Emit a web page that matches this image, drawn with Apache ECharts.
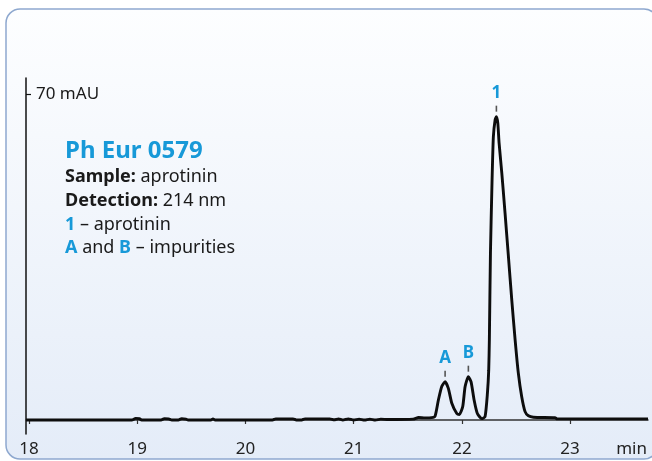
<!DOCTYPE html>
<html>
<head>
<meta charset="utf-8">
<script src="https://cdn.jsdelivr.net/npm/echarts@6/dist/echarts.min.js"></script>
<style>
  html, body { margin: 0; padding: 0; background: #ffffff; }
  #chart { width: 652px; height: 461px; }
</style>
</head>
<body>
<div id="chart"></div>
<script>
// Chromatogram trace: retention time (min) and absorbance (mAU)
const retentionTime = [
  17.972, 18.95, 18.985, 19.02, 19.04, 19.22, 19.25, 19.29, 19.32, 19.38,
  19.41, 19.45, 19.47, 19.68, 19.70, 19.72, 20.25, 20.28, 20.44, 20.47,
  20.52, 20.55, 20.78, 20.82, 20.86, 20.90, 20.95, 21.00, 21.05, 21.10,
  21.15, 21.20, 21.25, 21.32, 21.55, 21.60, 21.66, 21.72, 21.752, 21.783,
  21.814, 21.845, 21.875, 21.907, 21.953, 21.977, 22.008, 22.030, 22.060, 22.085,
  22.113, 22.143, 22.184, 22.214, 22.236, 22.248, 22.254, 22.264, 22.279, 22.291,
  22.307, 22.319, 22.332, 22.344, 22.369, 22.399, 22.430, 22.461, 22.492, 22.522,
  22.553, 22.584, 22.615, 22.661, 22.86, 22.88, 23.72
];
const absorbance = [
  0, 0, 0.35, 0.3, 0, 0, 0.3, 0.25, 0, 0,
  0.3, 0.2, 0, 0, 0.25, 0, 0, 0.25, 0.25, 0,
  0, 0.25, 0.25, 0.05, 0.25, 0, 0.25, 0, 0.2, 0,
  0.2, 0, 0.2, 0.1, 0.2, 0.55, 0.45, 0.5, 0.8, 4.3,
  7.2, 8.2, 6.8, 3.6, 1.4, 1.2, 2.9, 7.2, 9.3, 8.2,
  4.3, 1.4, 0.3, 0.7, 5.7, 10.7, 17.2, 35.8, 51.5, 60.8,
  64.4, 65.1, 63.7, 59.4, 53.0, 44.4, 35.1, 25.8, 17.2, 10.0,
  5.0, 1.8, 0.9, 0.6, 0.5, 0.25, 0.25
];

// Peak annotations
const peakLabels = ['A', 'B', '1'];
const peakTimes = [21.845, 22.060, 22.319];
const peakHeights = [8.2, 9.3, 65.1];

// Axis ticks
const timeTicks = [18, 19, 20, 21, 22, 23];
const absorbanceTicks = [70];
const timeUnit = 'min';

const BLUE = '#1799d8';
const FONT = "'Noto Sans', 'Open Sans', sans-serif";

const chart = echarts.init(document.getElementById('chart'), null, { renderer: 'canvas' });

// Method description block (vertical centre of each line)
const infoLines = [
  { y: 151, text: '{t|Ph Eur 0579}' },
  { y: 177, text: '{b|Sample:}{r| aprotinin}' },
  { y: 201, text: '{b|Detection:}{r| 214 nm}' },
  { y: 225, text: '{blue|1}{r| – aprotinin}' },
  { y: 248, text: '{blue|A}{r| and }{blue|B}{r| – impurities}' }
];

const richStyles = {
  t: { fontFamily: FONT, fontSize: 24, fontWeight: 'bold', fill: BLUE },
  b: { fontFamily: FONT, fontSize: 18, fontWeight: 'bold', fill: '#1a1a1a' },
  r: { fontFamily: FONT, fontSize: 18, fill: '#1a1a1a' },
  blue: { fontFamily: FONT, fontSize: 18, fontWeight: 'bold', fill: BLUE }
};

const option = {
  animation: false,
  graphic: [
    {
      type: 'rect',
      z: -10,
      silent: true,
      shape: { x: 6, y: 9, width: 652, height: 450, r: 14 },
      style: {
        fill: new echarts.graphic.LinearGradient(0, 0, 0, 1, [
          { offset: 0, color: '#fdfeff' },
          { offset: 1, color: '#e4ecf8' }
        ]),
        stroke: '#8ea8cf',
        lineWidth: 1.5
      }
    },
    {
      // time-axis unit, set beside the last tick label
      type: 'text',
      x: 647,
      y: 449,
      z: 10,
      silent: true,
      style: {
        text: timeUnit,
        align: 'right',
        verticalAlign: 'middle',
        fontFamily: FONT, fontSize: 17, fill: '#222'
      }
    }
  ].concat(infoLines.map(function (line) {
    return {
      type: 'text',
      x: 65,
      y: line.y,
      z: 10,
      silent: true,
      style: {
        text: line.text,
        align: 'left',
        verticalAlign: 'middle',
        rich: richStyles
      }
    };
  })),
  grid: { left: 26, right: 4, top: 78, bottom: 27 },
  xAxis: {
    type: 'value',
    min: 17.972,
    max: 23.72,
    axisLine: { show: true, lineStyle: { color: '#333', width: 1.5 } },
    axisTick: { show: true, inside: false, length: 4, customValues: timeTicks, lineStyle: { color: '#333', width: 1.2 } },
    axisLabel: {
      customValues: timeTicks,
      fontFamily: FONT, fontSize: 17, color: '#222', margin: 7
    },
    splitLine: { show: false }
  },
  yAxis: {
    type: 'value',
    min: -3.0,
    max: 73.4,
    axisLine: { show: true, lineStyle: { color: '#111', width: 1.5 } },
    axisTick: { show: true, inside: true, length: 5, customValues: absorbanceTicks, lineStyle: { color: '#111', width: 1.2 } },
    axisLabel: {
      customValues: absorbanceTicks,
      inside: true,
      margin: 10,
      formatter: '{value} mAU',
      fontFamily: FONT, fontSize: 17, color: '#1a1a1a'
    },
    splitLine: { show: false }
  },
  series: [
    {
      type: 'line',
      name: 'trace',
      data: retentionTime.map(function (t, i) { return [t, absorbance[i]]; }),
      showSymbol: false,
      smooth: 0.2,
      lineStyle: { color: '#0d0d0d', width: 2.9 },
      z: 3
    },
    {
      type: 'scatter',
      name: 'peaks',
      data: peakTimes.map(function (t, i) {
        return { value: [t, peakHeights[i]], name: peakLabels[i] };
      }),
      symbol: 'rect',
      symbolSize: [1.6, 6],
      symbolOffset: [0, -8],
      itemStyle: { color: '#555', opacity: 1 },
      label: {
        show: true,
        position: 'top',
        distance: 4,
        formatter: '{b}',
        fontFamily: FONT, fontSize: 17, fontWeight: 'bold', color: BLUE
      },
      z: 4
    }
  ]
};

chart.setOption(option);
</script>
</body>
</html>
